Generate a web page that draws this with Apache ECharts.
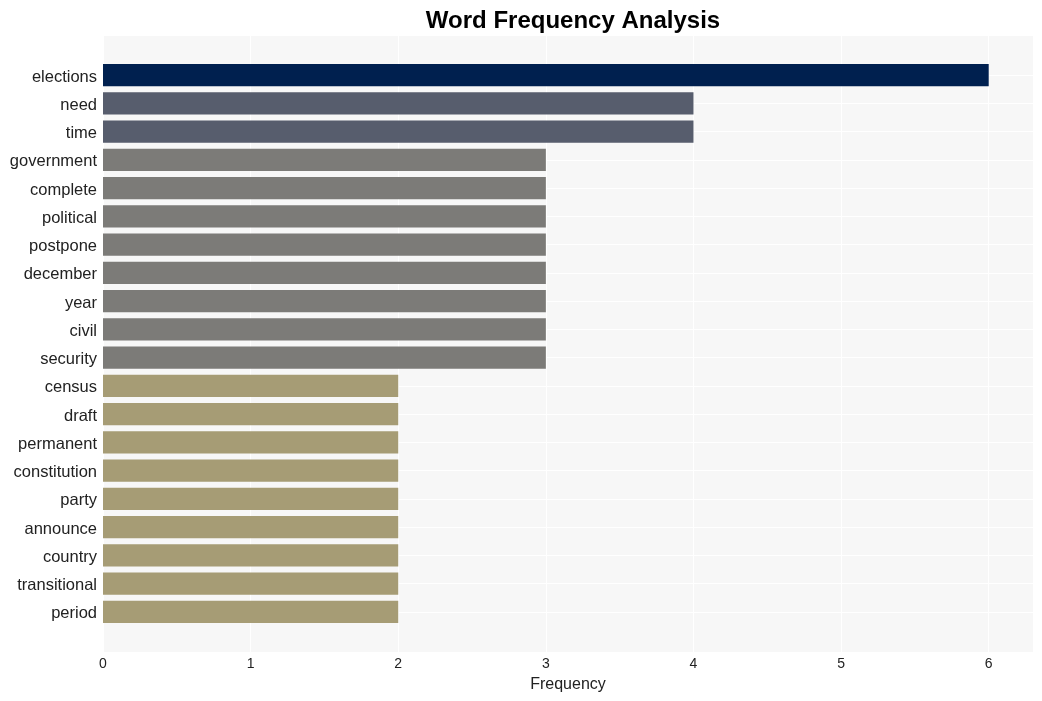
<!DOCTYPE html>
<html>
<head>
<meta charset="utf-8">
<script src="https://cdn.jsdelivr.net/npm/echarts@6/dist/echarts.min.js"></script>
<style>html,body{margin:0;padding:0;background:#fff}#c{width:1042px;height:701px}</style>
</head>
<body>
<div id="c"></div>
<script>
const categories = ["elections","need","time","government","complete","political","postpone","december","year","civil","security","census","draft","permanent","constitution","party","announce","country","transitional","period"];
const values = [6,4,4,3,3,3,3,3,3,3,3,2,2,2,2,2,2,2,2,2];
const barColors = ["#00204f","#575d6d","#575d6d","#7c7b78","#7c7b78","#7c7b78","#7c7b78","#7c7b78","#7c7b78","#7c7b78","#7c7b78","#a69c75","#a69c75","#a69c75","#a69c75","#a69c75","#a69c75","#a69c75","#a69c75","#a69c75"];
const xTicks = [0,1,2,3,4,5,6];

const chart = echarts.init(document.getElementById('c'));
const font = 'Liberation Sans, Arial, sans-serif';
chart.setOption({
  animation: false,
  title: {text: 'Word Frequency Analysis', left: 568, top: 4, textAlign: 'center',
    textStyle: {fontFamily: font, fontSize: 24, fontWeight: 'bold', color: '#000'}},
  grid: [
    {left: 103, top: 36, width: 930, height: 616, show: true, backgroundColor: '#f7f7f7', borderWidth: 0},
    {left: 103, top: 61, width: 930, height: 565},
    {left: 103, top: 75, width: 930, height: 537}
  ],
  xAxis: [
    {gridIndex: 0, type: 'value', min: 0, max: 6.3, interval: 1,
      axisLine: {show: false}, axisTick: {show: false},
      axisLabel: {fontFamily: font, fontSize: 14, color: '#222', margin: 5,
        formatter: v => xTicks.includes(v) ? String(v) : ''},
      splitLine: {show: true, lineStyle: {color: '#ffffff', width: 1}},
      name: 'Frequency', nameLocation: 'middle', nameGap: 25,
      nameTextStyle: {fontFamily: font, fontSize: 16, color: '#222'}},
    {gridIndex: 1, type: 'value', min: 0, max: 6.3, show: false},
    {gridIndex: 2, type: 'value', min: 0, max: 6.3, show: false}
  ],
  yAxis: [
    {gridIndex: 0, type: 'value', show: false},
    {gridIndex: 1, type: 'category', data: categories, inverse: true,
      axisLine: {show: false}, axisTick: {show: false},
      axisLabel: {margin: 6, formatter: v => '{a|' + v + '}',
        rich: {a: {fontFamily: font, fontSize: 16.5, color: '#222', padding: [4, 0, 0, 0]}}},
      splitLine: {show: false}},
    {gridIndex: 2, type: 'value', min: 0, max: 19, interval: 1, inverse: true,
      axisLine: {show: false}, axisTick: {show: false}, axisLabel: {show: false},
      splitLine: {show: true, lineStyle: {color: '#ffffff', width: 1}}}
  ],
  series: [{
    type: 'bar', xAxisIndex: 1, yAxisIndex: 1, barWidth: '79%',
    data: values.map((v, i) => ({value: v, itemStyle: {color: barColors[i]}}))
  }]
});
</script>
</body>
</html>
